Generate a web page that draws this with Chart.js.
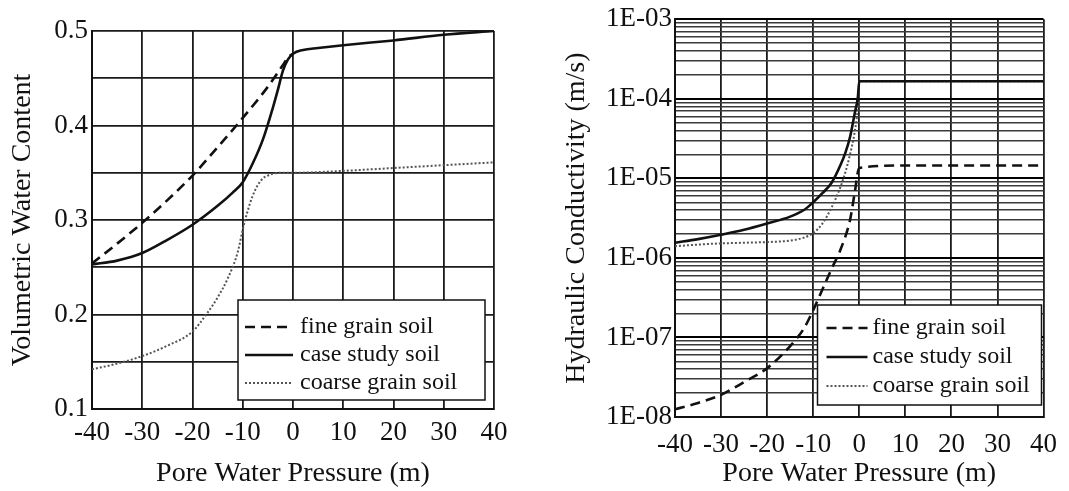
<!DOCTYPE html>
<html lang="en">
<head>
<meta charset="UTF-8">
<title>Water Content and Hydraulic Conductivity vs Pore Water Pressure</title>
<script src="https://cdn.jsdelivr.net/npm/chart.js"></script>
<style>
  body { margin: 0; background: #fff; }
  .wrap { position: relative; width: 1069px; height: 491px; }
  canvas { position: absolute; top: 0; }
  #thetaChart { left: 0; }
  #kChart { left: 540px; }
</style>
</head>
<body>
<div class="wrap">
  <canvas id="thetaChart" width="530" height="491"></canvas>
  <canvas id="kChart" width="529" height="491"></canvas>
</div>
<script>
const seriesLabels = ['fine grain soil', 'case study soil', 'coarse grain soil'];
const pressureTicks = [-40, -30, -20, -10, 0, 10, 20, 30, 40];

// volumetric water content (left panel)
const thetaFineP = [-40, -35, -30, -25, -20, -15, -10, -5, -2, -1, 0];
const thetaFine = [0.254, 0.275, 0.297, 0.321, 0.347, 0.377, 0.408, 0.441, 0.464, 0.472, 0.476];
const thetaCaseP = [-40, -35, -30, -25, -20, -15, -12, -10, -8, -6, -4, -3, -2, -1, 0, 2, 5, 10, 20, 30, 40];
const thetaCase = [0.253, 0.257, 0.265, 0.279, 0.295, 0.315, 0.329, 0.340, 0.360, 0.385, 0.419, 0.438, 0.458, 0.470, 0.476, 0.480, 0.482, 0.485, 0.490, 0.496, 0.500];
const thetaCoarseP = [-40, -35, -30, -25, -20, -17, -15, -13, -11, -10, -9, -8, -7, -6, -5, -4, -2, 0, 10, 20, 30, 40];
const thetaCoarse = [0.142, 0.148, 0.156, 0.167, 0.182, 0.202, 0.218, 0.238, 0.266, 0.290, 0.310, 0.326, 0.337, 0.344, 0.347, 0.349, 0.350, 0.350, 0.352, 0.355, 0.358, 0.361];
const thetaGrid = [0.1, 0.15, 0.2, 0.25, 0.3, 0.35, 0.4, 0.45, 0.5];
const thetaTickLabels = ['0.1', '', '0.2', '', '0.3', '', '0.4', '', '0.5'];

// hydraulic conductivity, m/s (right panel)
const kFineP = [-40, -35, -30, -25, -20, -15, -12, -10, -8, -6, -4, -2, -1, 0, 10, 20, 30, 40];
const kFine = [1.25e-8, 1.5e-8, 1.9e-8, 2.75e-8, 4.1e-8, 7.8e-8, 1.3e-7, 2.2e-7, 4.0e-7, 7.3e-7, 1.3e-6, 3.0e-6, 6.5e-6, 1.35e-5, 1.45e-5, 1.45e-5, 1.45e-5, 1.45e-5];
const kCaseP = [-40, -35, -30, -25, -20, -15, -12, -10, -8, -6, -4, -3, -2, -1, -0.3, 0, 10, 20, 30, 40];
const kCase = [1.55e-6, 1.72e-6, 1.95e-6, 2.25e-6, 2.7e-6, 3.3e-6, 4.0e-6, 5.0e-6, 6.5e-6, 8.8e-6, 1.5e-5, 2.1e-5, 3.3e-5, 6.5e-5, 1.05e-4, 1.66e-4, 1.66e-4, 1.66e-4, 1.66e-4, 1.66e-4];
const kCoarseP = [-40, -35, -30, -25, -20, -15, -12, -10, -8, -6, -4, -3, -2, -1, -0.3, 0, 10, 20, 30, 40];
const kCoarse = [1.4e-6, 1.47e-6, 1.52e-6, 1.55e-6, 1.58e-6, 1.65e-6, 1.8e-6, 2.05e-6, 2.7e-6, 4.3e-6, 8.0e-6, 1.2e-5, 2.0e-5, 3.8e-5, 8.0e-5, 1.66e-4, 1.66e-4, 1.66e-4, 1.66e-4, 1.66e-4];
const kDecades = [-8, -7, -6, -5, -4, -3];
const kSteps = [1, 2, 3, 4, 5, 6, 7, 8, 9];

Chart.defaults.font.family = "'Liberation Serif', 'Times New Roman', serif";
Chart.defaults.color = '#111';

const lineStyles = [
  { borderColor: '#111', borderWidth: 2.6, borderDash: [10, 6] },
  { borderColor: '#111', borderWidth: 2.6, borderDash: [] },
  { borderColor: '#555', borderWidth: 2, borderDash: [2, 2] }
];

function makeSet(i, xs, ys) {
  return Object.assign({
    label: seriesLabels[i],
    data: xs.map((x, j) => ({ x: x, y: ys[j] })),
    pointRadius: 0,
    fill: false,
    cubicInterpolationMode: 'monotone'
  }, lineStyles[i]);
}

// legend drawn as a boxed panel inside the plot area
const boxLegend = {
  id: 'boxLegend',
  afterDraw(chart, args, o) {
    const { ctx, chartArea } = chart;
    const x0 = chartArea.right - o.right - o.width;
    const y0 = chartArea.bottom - o.bottom - o.height;
    ctx.save();
    ctx.fillStyle = '#fff';
    ctx.fillRect(x0, y0, o.width, o.height);
    ctx.strokeStyle = '#111';
    ctx.lineWidth = 1.5;
    ctx.strokeRect(x0, y0, o.width, o.height);
    ctx.font = "24px 'Liberation Serif'";
    ctx.textBaseline = 'middle';
    chart.data.datasets.forEach((ds, i) => {
      const y = y0 + o.firstRow + i * o.rowGap;
      ctx.beginPath();
      ctx.setLineDash(ds.borderDash);
      ctx.lineWidth = ds.borderWidth;
      ctx.strokeStyle = ds.borderColor;
      ctx.moveTo(x0 + o.sampleStart, y);
      ctx.lineTo(x0 + o.sampleStart + o.sampleLen, y);
      ctx.stroke();
      ctx.setLineDash([]);
      ctx.fillStyle = '#111';
      ctx.fillText(ds.label, x0 + o.textStart, y);
    });
    ctx.restore();
  }
};

function pressureAxis(labelPad, height) {
  return {
    type: 'linear',
    min: -40,
    max: 40,
    afterBuildTicks: s => { s.ticks = pressureTicks.map(v => ({ value: v })); },
    afterFit: s => { s.height = height; },
    ticks: { autoSkip: false, maxRotation: 0, padding: labelPad, font: { size: 27 } },
    grid: { color: '#1a1a1a', lineWidth: 1.8, drawTicks: false },
    border: { color: '#111', width: 2 },
    title: { display: true, text: 'Pore Water Pressure (m)', font: { size: 28 }, padding: { top: 0, bottom: 1 } }
  };
}

new Chart(document.getElementById('thetaChart'), {
  type: 'line',
  data: {
    datasets: [
      makeSet(0, thetaFineP, thetaFine),
      makeSet(1, thetaCaseP, thetaCase),
      makeSet(2, thetaCoarseP, thetaCoarse)
    ]
  },
  plugins: [boxLegend],
  options: {
    responsive: false,
    animation: false,
    layout: { padding: { top: 31, right: 36, bottom: 0, left: 0 } },
    plugins: {
      legend: { display: false },
      tooltip: { enabled: false },
      boxLegend: { right: 9, bottom: 9, width: 247, height: 100, sampleStart: 7, sampleLen: 48, textStart: 62, firstRow: 27, rowGap: 28 }
    },
    scales: {
      x: pressureAxis(8, 82),
      y: {
        type: 'linear',
        min: 0.1,
        max: 0.5,
        afterBuildTicks: s => { s.ticks = thetaGrid.map(v => ({ value: v })); },
        afterFit: s => { s.width = 92; },
        ticks: { autoSkip: false, padding: 4, font: { size: 27 }, callback: (v, i) => thetaTickLabels[i] },
        grid: { color: '#1a1a1a', lineWidth: 1.8, drawTicks: false },
        border: { color: '#111', width: 2 },
        title: { display: true, text: 'Volumetric Water Content', font: { size: 28 }, padding: { top: 6, bottom: 0 } }
      }
    }
  }
});

const kGrid = [];
const kTickLabels = [];
kDecades.forEach(e => {
  kSteps.forEach(m => {
    if (e === kDecades[kDecades.length - 1] && m > 1) return;
    kGrid.push(m * Math.pow(10, e));
    kTickLabels.push(m === 1 ? '1E-' + String(-e).padStart(2, '0') : '');
  });
});

new Chart(document.getElementById('kChart'), {
  type: 'line',
  data: {
    datasets: [
      makeSet(0, kFineP, kFine),
      makeSet(1, kCaseP, kCase),
      makeSet(2, kCoarseP, kCoarse)
    ]
  },
  plugins: [boxLegend],
  options: {
    responsive: false,
    animation: false,
    layout: { padding: { top: 19, right: 25, bottom: 0, left: 0 } },
    plugins: {
      legend: { display: false },
      tooltip: { enabled: false },
      boxLegend: { right: 2, bottom: 12, width: 224, height: 100, sampleStart: 9, sampleLen: 41, textStart: 55, firstRow: 23, rowGap: 29 }
    },
    scales: {
      x: pressureAxis(12, 74),
      y: {
        type: 'logarithmic',
        min: 1e-8,
        max: 1e-3,
        afterBuildTicks: s => { s.ticks = kGrid.map(v => ({ value: v })); },
        afterFit: s => { s.width = 135; },
        ticks: { autoSkip: false, padding: 3, font: { size: 27 }, callback: (v, i) => kTickLabels[i] },
        grid: {
          drawTicks: false,
          color: c => (kTickLabels[c.index] ? '#000' : '#3a3a3a'),
          lineWidth: c => (kTickLabels[c.index] ? 2 : 1.4)
        },
        border: { color: '#111', width: 2 },
        title: { display: true, text: 'Hydraulic Conductivity (m/s)', font: { size: 28 }, padding: { top: 20, bottom: 0 } }
      }
    }
  }
});
</script>
</body>
</html>
